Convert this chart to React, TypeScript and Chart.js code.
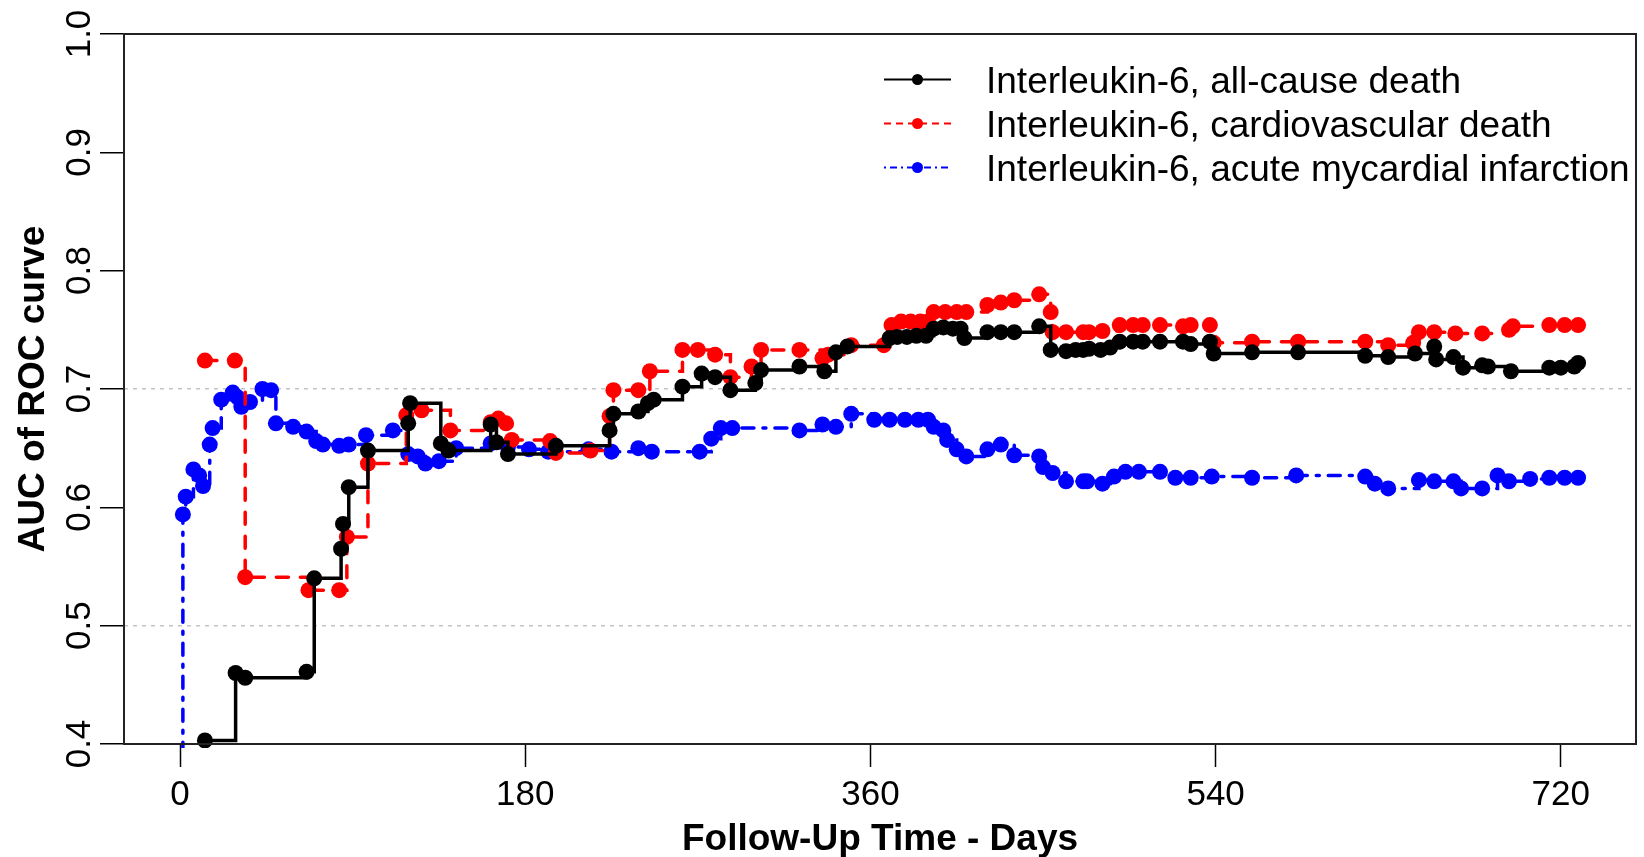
import React, { useEffect, useRef } from "react";
import { Chart, registerables } from "chart.js";

Chart.register(...registerables);

const FAMILY = "'Liberation Sans', Arial, Helvetica, sans-serif";

// ---- axis ticks ----
const X_TICKS = [0, 180, 360, 540, 720];
const Y_TICKS = [0.4, 0.5, 0.6, 0.7, 0.8, 0.9, 1.0];
const Y_GRID = [0.5, 0.7];

// ---- series labels ----
const LABELS = [
  "Interleukin-6, all-cause death",
  "Interleukin-6, cardiovascular death",
  "Interleukin-6, acute mycardial infarction",
];

// ---- all-cause death ----
const ALL_DAYS = [13, 29, 34, 66, 70, 84, 85, 88, 98, 119, 120, 136, 140, 162, 165, 171, 196, 224, 226, 239, 244, 247, 262, 272, 279, 287, 300, 303, 323, 336, 342, 348, 370, 374, 379, 384, 389, 393, 398, 403, 407, 409, 421, 428, 435, 448, 454, 462, 467, 471, 474, 480, 485, 490, 497, 502, 511, 523, 527, 537, 539, 559, 583, 618, 630, 644, 654, 655, 664, 669, 679, 682, 694, 714, 720, 727, 729];
const ALL_AUC = [0.403, 0.46, 0.456, 0.461, 0.54, 0.565, 0.586, 0.617, 0.648, 0.671, 0.688, 0.654, 0.648, 0.67, 0.655, 0.645, 0.652, 0.665, 0.679, 0.681, 0.688, 0.691, 0.702, 0.713, 0.71, 0.699, 0.705, 0.716, 0.719, 0.715, 0.731, 0.736, 0.743, 0.744, 0.744, 0.745, 0.745, 0.751, 0.752, 0.751, 0.751, 0.743, 0.748, 0.748, 0.748, 0.753, 0.733, 0.732, 0.733, 0.733, 0.734, 0.733, 0.735, 0.74, 0.74, 0.74, 0.74, 0.74, 0.738, 0.74, 0.73, 0.731, 0.731, 0.728, 0.727, 0.73, 0.736, 0.725, 0.727, 0.718, 0.72, 0.719, 0.715, 0.718, 0.718, 0.719, 0.722];

// ---- cardiovascular death ----
const CV_DAYS = [13, 28.6, 34, 67, 83, 87, 98, 118, 126, 141, 162, 166, 170, 173, 193, 196, 214, 224, 226, 239, 245, 262, 270, 279, 287, 298, 303, 323, 335, 338, 350, 367, 371, 376, 381, 386, 390, 393, 399, 405, 410, 421, 428, 435, 448, 454, 455, 462, 471, 474, 481, 490, 497, 502, 511, 523, 527, 537, 539, 559, 583, 618, 630, 643, 646, 654, 665, 679, 693, 695, 714, 722, 729];
const CV_AUC = [0.724, 0.724, 0.541, 0.53, 0.53, 0.575, 0.637, 0.678, 0.682, 0.665, 0.672, 0.675, 0.671, 0.657, 0.656, 0.646, 0.648, 0.677, 0.699, 0.699, 0.715, 0.733, 0.733, 0.729, 0.71, 0.719, 0.733, 0.733, 0.726, 0.729, 0.737, 0.737, 0.754, 0.757, 0.757, 0.757, 0.757, 0.765, 0.765, 0.765, 0.765, 0.771, 0.773, 0.775, 0.78, 0.765, 0.748, 0.748, 0.748, 0.748, 0.749, 0.754, 0.754, 0.754, 0.754, 0.753, 0.754, 0.754, 0.739, 0.74, 0.74, 0.74, 0.737, 0.739, 0.748, 0.748, 0.747, 0.747, 0.75, 0.753, 0.754, 0.754, 0.754];

// ---- acute myocardial infarction ----
const MI_DAYS = [0, 1.5, 3, 7, 10, 12, 15.5, 17, 21.5, 27.5, 30, 32, 36.5, 43, 47.5, 50, 59, 66, 71, 74.5, 83, 88, 97, 111, 119, 124, 128, 135, 144, 162, 171, 182, 192, 213, 225, 239, 246, 271, 277, 282, 288, 323, 335, 342, 350, 362, 370, 378, 385, 390, 393, 398, 400, 405, 410, 421, 428, 435, 448, 450, 455, 462, 471, 473, 481, 487, 493, 500, 511, 519, 527, 538, 559, 582, 618, 623, 630, 646, 654, 664, 668, 679, 687, 693, 704, 714, 722, 729];
const MI_AUC = [0.3, 0.594, 0.609, 0.632, 0.627, 0.618, 0.653, 0.667, 0.691, 0.697, 0.693, 0.685, 0.689, 0.7, 0.699, 0.671, 0.668, 0.664, 0.656, 0.653, 0.652, 0.653, 0.661, 0.665, 0.645, 0.643, 0.637, 0.639, 0.65, 0.654, 0.651, 0.649, 0.647, 0.649, 0.647, 0.65, 0.647, 0.647, 0.658, 0.667, 0.667, 0.665, 0.67, 0.668, 0.679, 0.674, 0.674, 0.674, 0.674, 0.674, 0.668, 0.665, 0.657, 0.649, 0.643, 0.649, 0.653, 0.644, 0.643, 0.634, 0.629, 0.622, 0.622, 0.622, 0.62, 0.626, 0.63, 0.63, 0.63, 0.625, 0.625, 0.626, 0.625, 0.627, 0.626, 0.62, 0.616, 0.623, 0.622, 0.622, 0.616, 0.616, 0.627, 0.622, 0.624, 0.625, 0.625, 0.625];

const COLORS = ["#000000", "#ff0000", "#0000ff"];
const DASHES = [[], [12, 12], [3, 9, 12, 9]];
const LEGEND_DASHES = [[], [7, 5], [2, 4, 7, 4]];

const toPoints = (xs: number[], ys: number[]) => xs.map((x, i) => ({ x, y: ys[i] }));

const decorPlugin = {
  id: "rDecor",
  afterDraw(chart: any) {
    const { ctx, chartArea: a, scales } = chart;
    ctx.save();
    // plot box
    ctx.strokeStyle = "#222";
    ctx.lineWidth = 2;
    ctx.setLineDash([]);
    ctx.strokeRect(a.left, a.top, a.right - a.left, a.bottom - a.top);

    // rotated y tick labels (R style)
    const ys = scales.y;
    ctx.fillStyle = "#000";
    ctx.font = `35px ${FAMILY}`;
    ctx.textAlign = "center";
    ctx.textBaseline = "alphabetic";
    ys.ticks.forEach((t: any) => {
      const py = ys.getPixelForValue(t.value);
      ctx.save();
      ctx.translate(a.left - 34, py);
      ctx.rotate(-Math.PI / 2);
      ctx.fillText(Number(t.value).toFixed(1), 0, 0);
      ctx.restore();
    });

    // legend (R style, no box)
    const lx1 = a.left + 760;
    const lx2 = a.left + 827;
    const tx = a.left + 862;
    chart.data.datasets.forEach((ds: any, i: number) => {
      const cy = a.top + 45.5 + i * 44;
      ctx.strokeStyle = ds.borderColor;
      ctx.lineWidth = 2;
      ctx.setLineDash(LEGEND_DASHES[i]);
      ctx.beginPath();
      ctx.moveTo(lx1, cy);
      ctx.lineTo(lx2, cy);
      ctx.stroke();
      ctx.setLineDash([]);
      ctx.fillStyle = ds.borderColor;
      ctx.beginPath();
      ctx.arc((lx1 + lx2) / 2, cy, 5.5, 0, Math.PI * 2);
      ctx.fill();
      ctx.fillStyle = "#000";
      ctx.font = `37px ${FAMILY}`;
      ctx.textAlign = "left";
      ctx.textBaseline = "alphabetic";
      ctx.fillText(ds.label, tx, cy + 13.5);
    });
    ctx.restore();
  },
};

export default function App() {
  const ref = useRef<HTMLCanvasElement | null>(null);

  useEffect(() => {
    document.body.style.margin = "0";
    const canvas = ref.current;
    if (!canvas) return;
    Chart.defaults.font.family = FAMILY;

    const series = [
      toPoints(ALL_DAYS, ALL_AUC),
      toPoints(CV_DAYS, CV_AUC),
      toPoints(MI_DAYS, MI_AUC),
    ];

    const chart = new Chart(canvas, {
      type: "line",
      data: {
        datasets: series.map((data, i) => ({
          label: LABELS[i],
          data,
          borderColor: COLORS[i],
          backgroundColor: COLORS[i],
          pointBackgroundColor: COLORS[i],
          pointBorderWidth: 0,
          pointRadius: 8,
          borderWidth: 3.5,
          borderDash: DASHES[i],
          borderCapStyle: i === 0 ? "butt" : "round",
          stepped: true,
          fill: false,
          clip: { left: 10, top: 10, right: 10, bottom: 4 },
        })),
      },
      options: {
        responsive: false,
        animation: false,
        events: [],
        layout: { padding: { left: 0, top: 34, right: 3, bottom: 0 } },
        plugins: {
          legend: { display: false },
          tooltip: { enabled: false },
        },
        scales: {
          x: {
            type: "linear",
            min: -29.2,
            max: 759.2,
            afterBuildTicks: (s: any) => {
              s.ticks = X_TICKS.map((v) => ({ value: v }));
            },
            afterFit: (s: any) => {
              s.height = 113;
            },
            ticks: {
              color: "#000",
              font: { size: 35, lineHeight: 1 },
              padding: 10.5,
              maxRotation: 0,
              minRotation: 0,
              autoSkip: false,
              callback: (v: any) => String(v),
            },
            grid: {
              drawOnChartArea: false,
              drawTicks: true,
              tickLength: 23,
              tickColor: "#000",
              tickWidth: 1.5,
            },
            border: { display: false },
            title: {
              display: true,
              text: "Follow-Up Time - Days",
              color: "#000",
              font: { size: 37, weight: "bold", lineHeight: 0.9 },
              padding: { top: 0, bottom: 0.6 },
            },
          },
          y: {
            type: "linear",
            min: 0.4,
            max: 1.0,
            afterBuildTicks: (s: any) => {
              s.ticks = Y_TICKS.map((v) => ({ value: v }));
            },
            afterFit: (s: any) => {
              s.width = 124;
            },
            ticks: { display: false },
            grid: {
              drawOnChartArea: true,
              drawTicks: true,
              tickLength: 24,
              tickColor: "#000",
              tickWidth: 1.5,
              lineWidth: 1.5,
              color: (c: any) =>
                c.tick && Y_GRID.includes(c.tick.value) ? "#c4c4c4" : "rgba(0,0,0,0)",
            },
            border: { display: false, dash: [4, 5] },
            title: {
              display: true,
              text: "AUC of ROC curve",
              color: "#000",
              font: { size: 37, weight: "bold", lineHeight: 1 },
              padding: { top: 15.4, bottom: 0 },
            },
          },
        },
      },
      plugins: [decorPlugin],
    });

    return () => chart.destroy();
  }, []);

  return (
    <div style={{ position: "fixed", left: 0, top: 0, width: 1644, height: 857, background: "#fff" }}>
      <canvas ref={ref} width={1644} height={857} style={{ display: "block", width: 1644, height: 857 }} />
    </div>
  );
}
